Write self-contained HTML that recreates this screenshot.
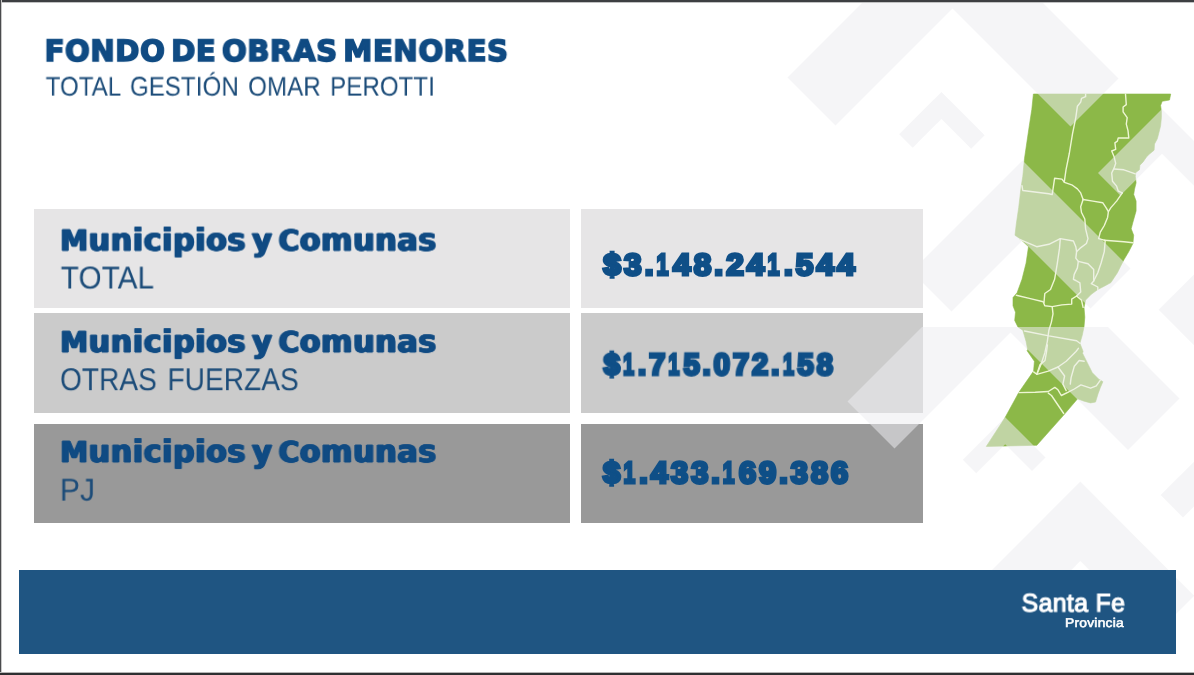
<!DOCTYPE html>
<html lang="es"><head><meta charset="utf-8"><title>Fondo de Obras Menores</title>
<style>
html,body{margin:0;padding:0;background:#fff}
body{width:1194px;height:675px;position:relative;overflow:hidden;font-family:"Liberation Sans",sans-serif}
.frame-t{position:absolute;left:0;top:0;width:1194px;height:3px;background:linear-gradient(#3d3f42 0,#3d3f42 2px,#9a9b9d 2px,#e8e8e8 3px)}
.frame-l{position:absolute;left:0;top:0;width:2px;height:675px;background:linear-gradient(90deg,#4a4b4d 0,#4a4b4d 1px,#c9c9c9 1px,#c9c9c9 2px)}
.frame-b{position:absolute;left:0;top:672px;width:1194px;height:3px;background:linear-gradient(#b5b5b5 0,#b5b5b5 1px,#2e2f31 1px,#2e2f31 3px)}
.box{position:absolute}
.bar{position:absolute;left:19.3px;top:570px;width:1156.3px;height:83.5px;background:#1f5582}
.t{will-change:transform;text-rendering:geometricPrecision;position:absolute;left:0;top:0;white-space:nowrap;line-height:1;transform-origin:0 0;margin:0;padding:0}
.hv{font-family:"DejaVu Sans","Liberation Sans",sans-serif;font-weight:700;color:#104b83;-webkit-text-stroke:0.75px #104b83;text-shadow:1.05px 0 #104b83,-1.05px 0 #104b83;letter-spacing:0.5px;word-spacing:-5px}
.ht{font-family:"DejaVu Sans","Liberation Sans",sans-serif;font-weight:700;color:#104b83;-webkit-text-stroke:1.6px #104b83;letter-spacing:0.5px;word-spacing:-5px}
.bk{font-family:"Liberation Sans",sans-serif;font-weight:700;color:#0f4f87;-webkit-text-stroke:3.2px #0f4f87;letter-spacing:3px}
.bk i{font-style:normal;display:inline-block;transform:scaleX(.68);margin:0 -1.2px 0 -2.9px}
.cp{font-size:0.925em}
.lt{font-weight:400;color:#1c4c79;word-spacing:3px;letter-spacing:0.15px}
.lg{font-weight:400;color:#fff;-webkit-text-stroke:1.1px #fff;letter-spacing:0.4px}
.lg2{font-weight:400;color:#fff;-webkit-text-stroke:0.55px #fff;letter-spacing:0.2px}
svg{position:absolute;left:0;top:0}
</style></head><body>
<div class="box" style="left:34px;top:313.4px;width:535.5px;height:99.35px;background:#cbcbcb"></div>
<div class="box" style="left:581.2px;top:313.4px;width:341.8px;height:99.35px;background:#cbcbcb"></div>
<div class="box" style="left:34px;top:423.8px;width:535.5px;height:98.9px;background:#999999"></div>
<div class="box" style="left:581.2px;top:423.8px;width:341.7px;height:98.9px;background:#999999"></div>
<svg width="1194" height="675" viewBox="0 0 1194 675">
<defs><clipPath id="c2"><rect x="0" y="327" width="1194" height="348"/></clipPath></defs>
<polygon points="1033.4,94.0 1170.7,94.0 1169.5,100.0 1162.2,101.3 1160.6,105.4 1161.4,111.1 1161.4,117.6 1160.6,125.8 1159.0,132.3 1157.3,138.8 1154.5,144.0 1154.1,150.2 1149.2,154.3 1146.7,156.7 1143.1,161.9 1139.9,165.2 1139.4,169.8 1135.8,172.5 1135.3,176.3 1136.1,182.8 1134.5,189.3 1133.7,194.6 1136.1,201.1 1136.1,210.9 1132.9,222.3 1131.2,228.8 1133.7,235.3 1132.9,243.5 1128.8,251.6 1123.9,259.8 1120.6,266.3 1117.4,272.8 1114.1,277.7 1110.9,282.6 1104.3,286.2 1097.8,289.5 1091.3,294.3 1085.6,300.1 1084.0,307.4 1084.8,317.2 1084.0,326.9 1082.3,335.1 1079.9,343.3 1083.1,351.4 1082.5,353.2 1087.4,362.9 1092.3,372.7 1098.8,379.2 1102.9,381.7 1100.4,387.4 1098.0,393.9 1095.5,402.1 1090.6,402.9 1084.1,401.2 1077.6,398.8 1063.7,415.1 1036.8,445.3 986.3,446.4 1005.1,417.5 1018.9,392.3 1033.6,371.1 1034.4,361.3 1027.1,350.7 1027.7,349.8 1026.1,341.6 1022.8,330.2 1017.9,326.9 1014.7,320.4 1015.5,312.3 1013.0,305.8 1013.0,297.6 1017.1,292.7 1022.0,279.3 1026.1,263.0 1028.5,246.7 1020.4,238.9 1015.0,235.3 1016.3,223.9 1018.7,207.6 1021.2,186.4 1022.8,176.3 1024.5,158.4 1026.9,142.1 1029.3,125.8 1031.8,109.5" fill="#8cb848" stroke="#8cb848" stroke-width="0.6" stroke-linejoin="round"/>
<g fill="none" stroke="#eef6d4" stroke-width="1.4" stroke-linejoin="round" stroke-linecap="round">
<polyline points="1085.6,94.0 1085.6,96.7 1081.5,98.4 1080.7,102.1 1077.4,106.2 1075.8,117.6 1072.5,133.9 1069.3,153.5 1066.0,169.8 1064.4,181.2 1064.4,182.3"/>
<polyline points="1022.0,185.6 1022.8,190.5 1048.9,193.7 1052.2,194.6 1054.6,178.3 1061.9,179.1 1064.4,182.3 1071.7,184.8 1077.4,188.9 1080.7,192.9 1083.1,199.5"/>
<polyline points="1125.5,94.0 1126.3,104.6 1123.1,107.0 1123.1,111.9 1127.2,117.6 1126.3,124.1 1128.0,130.6 1128.8,138.0 1118.2,138.0 1117.4,141.2 1114.9,142.9 1115.7,149.4 1111.7,151.0 1114.1,156.7 1115.7,163.3 1114.1,168.1 1111.7,173.0 1112.5,181.2 1116.6,186.1 1118.2,191.0 1120.6,192.1 1122.3,192.9"/>
<polyline points="1114.1,169.0 1123.9,169.8 1130.4,172.2 1135.3,173.8"/>
<polyline points="1083.1,199.5 1092.9,201.1 1102.7,202.7 1106.0,207.6 1108.4,211.7"/>
<polyline points="1083.1,199.5 1080.7,206.8 1081.5,212.5 1084.8,219.0 1085.6,228.8 1088.0,238.6 1086.4,243.5 1079.9,248.4 1076.6,251.6"/>
<polyline points="1122.3,192.9 1116.6,201.1 1110.9,207.6 1108.4,211.7 1107.6,217.4 1104.3,225.5 1100.3,232.1 1098.6,238.6 1104.3,240.2"/>
<polyline points="1104.3,240.2 1114.1,241.0 1123.9,241.8 1132.9,242.7"/>
<polyline points="1105.2,240.5 1104.3,251.6 1101.1,263.0 1097.8,272.8 1093.7,281.0 1091.3,283.7 1097.8,287.0 1097.8,289.5"/>
<polyline points="1019.6,239.4 1036.7,246.7 1048.9,244.3 1060.3,238.6 1073.4,241.0 1075.8,246.7 1076.6,251.6"/>
<polyline points="1060.3,238.6 1059.5,248.4 1057.1,264.7 1054.6,279.3 1050.5,289.5 1044.8,293.5 1044.0,302.5"/>
<polyline points="1076.6,251.6 1075.8,258.1 1078.3,261.4 1077.4,267.9 1074.2,274.4 1073.4,279.3 1075.8,280.5 1079.9,282.9 1080.7,291.9 1076.6,296.0"/>
<polyline points="1078.3,261.4 1088.0,263.8 1093.7,269.6 1093.7,281.0"/>
<polyline points="1016.3,295.2 1029.3,298.4 1043.2,301.7 1044.8,305.8 1052.2,306.6 1061.9,304.9 1071.7,304.1 1071.7,299.2 1076.6,296.0 1081.5,300.1 1083.1,307.4"/>
<polyline points="1052.2,306.6 1053.0,313.9 1051.4,322.1 1048.9,330.2 1047.3,341.6 1044.8,353.0 1041.6,362.8 1038.3,371.0 1036.8,374.3"/>
<polyline points="1024.5,331.0 1048.9,335.9 1076.6,340.8 1079.9,343.3"/>
<polyline points="1036.8,374.3 1040.1,364.6 1045.0,360.5 1046.6,351.5 1047.4,345.0"/>
<polyline points="1033.6,371.9 1036.8,374.3 1048.3,371.1 1058.0,367.0 1066.2,361.3 1076.0,351.5 1078.4,348.3"/>
<polyline points="1058.0,367.0 1064.6,376.0 1062.9,384.1 1066.2,390.6"/>
<polyline points="1070.3,384.1 1071.1,377.6 1074.3,366.2 1079.2,360.5 1084.1,361.3"/>
<polyline points="1018.9,392.6 1035.2,392.3 1048.3,391.5 1054.8,387.4 1058.0,389.8 1061.3,395.5 1067.8,392.3 1074.3,389.0 1080.9,384.9 1090.6,388.2 1096.3,385.8 1100.4,380.1"/>
<polyline points="1048.3,393.1 1051.5,395.5 1063.7,413.5"/>
</g>
<g fill="#ececf0" fill-opacity="0.54">
<polygon points="952.5,-87.5 1118.5,78.5 1070.5,126.5 952.5,8.5 835.5,125.5 787.5,77.5"/>
<polygon points="941.4,92.0 984.7,135.3 971.2,148.8 941.4,119.0 912.7,147.7 899.2,134.2"/>
<polygon points="1162.0,109.0 1276.5,223.5 1254.1,245.9 1162.0,153.8 1120.4,195.4 1098.0,173.0"/>
<polygon points="1022.5,160.5 1130.5,268.5 1090.5,308.5 1022.5,240.5 951.5,311.5 911.5,271.5"/>
<polygon points="1158.6,309.8 1208.6,259.8 1258.6,309.8 1208.6,359.8"/>
<g clip-path="url(#c2)">
<polygon points="1015.0,234.0 1179.5,398.5 1128.0,450.0 1010.5,332.5 894.5,448.5 847.5,401.5"/>
<polygon points="1005.2,417.3 1045.5,457.5 1032.0,471.0 1005.2,444.3 976.2,473.2 962.8,459.8"/>
<polygon points="1224.2,431.5 1346.3,553.6 1324.0,576.0 1224.2,476.3 1183.0,517.5 1160.6,495.1"/>
<polygon points="1080.3,481.6 1194.3,595.7 1154.6,635.4 1080.3,561.1 1009.7,631.7 970.0,592.0"/>
</g></g></svg>
<div class="box" style="left:34px;top:208.8px;width:535.5px;height:99.4px;background:#e6e5e6"></div>
<div class="box" style="left:581.2px;top:208.8px;width:341.8px;height:99.4px;background:#e6e5e6"></div>
<div class="bar"></div>
<div id="t1" class="t ht" style="font-size:29.37px;transform:translate(44.54px,37.01px) scale(0.9949,1.0000)">FONDO DE OBRAS MENORES</div>
<div id="t2" class="t lt" style="font-size:27.09px;transform:translate(45.66px,72.57px) scale(0.8855,1.0000)">TOTAL GESTIÓN OMAR PEROTTI</div>
<div id="r1a" class="t hv" style="font-size:31.28px;transform:translate(60.16px,225.56px) scale(0.9703,1.0000)"><span class="cp">M</span>unicipios y <span class="cp">C</span>omunas</div>
<div id="r1b" class="t lt" style="font-size:31.65px;transform:translate(60.74px,262.50px) scale(0.9369,1.0000)">TOTAL</div>
<div id="r1c" class="t bk" style="font-size:30.40px;transform:translate(603.30px,250.34px) scale(1.0385,1.0000)">$3.<i>1</i>48.24<i>1</i>.544</div>
<div id="r2a" class="t hv" style="font-size:31.28px;transform:translate(60.16px,327.10px) scale(0.9703,1.0000)"><span class="cp">M</span>unicipios y <span class="cp">C</span>omunas</div>
<div id="r2b" class="t lt" style="font-size:31.65px;transform:translate(60.04px,364.17px) scale(0.8827,1.0000)">OTRAS FUERZAS</div>
<div id="r2c" class="t bk" style="font-size:30.40px;transform:translate(603.55px,349.74px) scale(0.9633,1.0000)">$<i>1</i>.7<i>1</i>5.072.<i>1</i>58</div>
<div id="r3a" class="t hv" style="font-size:31.28px;transform:translate(60.16px,437.04px) scale(0.9703,1.0000)"><span class="cp">M</span>unicipios y <span class="cp">C</span>omunas</div>
<div id="r3b" class="t lt" style="font-size:31.65px;transform:translate(59.88px,474.61px) scale(0.9472,1.0000)">PJ</div>
<div id="r3c" class="t bk" style="font-size:30.40px;transform:translate(603.09px,457.82px) scale(1.0124,1.0000)">$<i>1</i>.433.<i>1</i>69.386</div>
<div id="lg1" class="t lg" style="font-size:25.50px;transform:translate(1021.59px,591.50px) scale(0.9733,1.0000)">Santa Fe</div>
<div id="lg2" class="t lg2" style="font-size:12.65px;transform:translate(1065.08px,616.98px) scale(1.0927,1.0000)">Provincia</div>
<div class="frame-t"></div><div class="frame-l"></div><div class="frame-b"></div>
</body></html>
